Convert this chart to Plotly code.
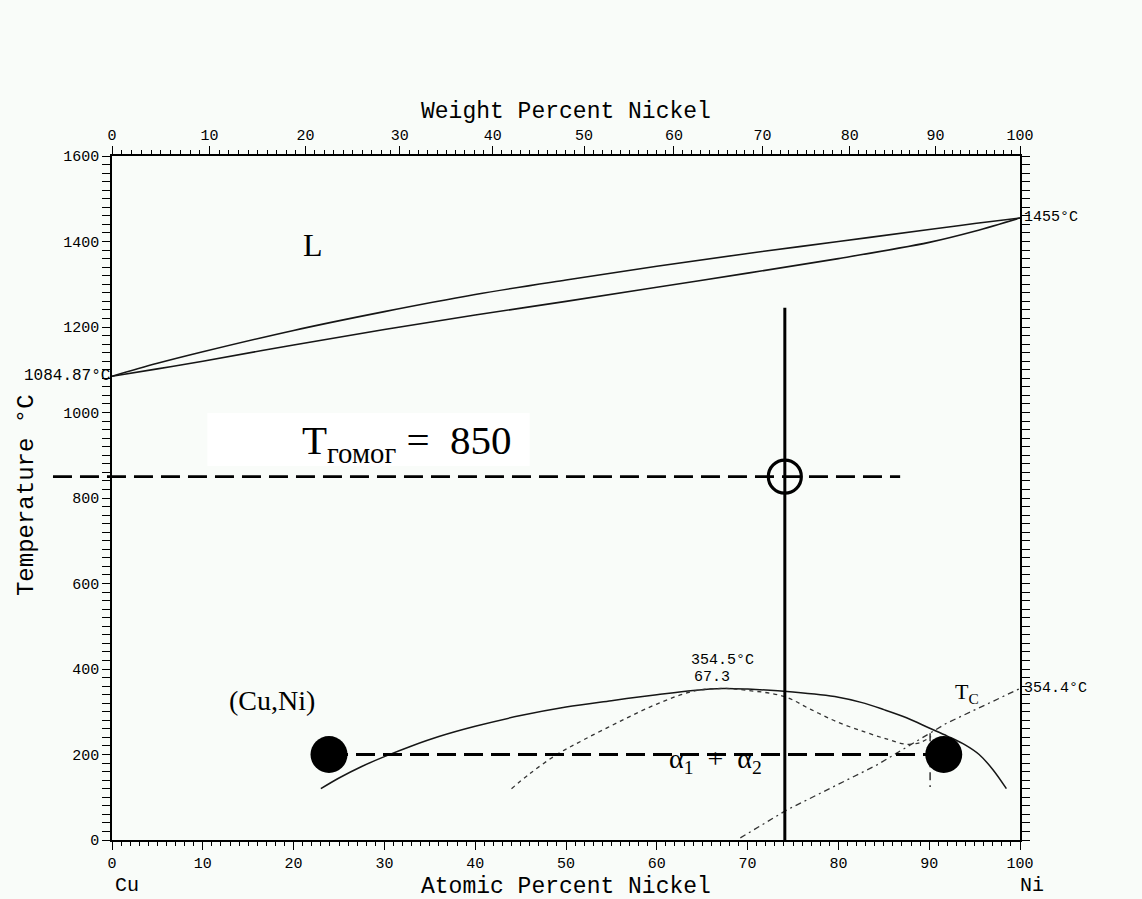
import plotly.graph_objects as go

# ---- Cu-Ni phase diagram data (composition in at.% Ni, temperature in °C) ----
liquidus_x = [0, 5, 10, 20, 30, 40, 50, 60, 70, 80, 90, 95, 100]
liquidus_t = [1084.87, 1115, 1142, 1192, 1236, 1276, 1310, 1342, 1372, 1400, 1428, 1442, 1455]

solidus_x = [0, 5, 10, 20, 30, 40, 50, 60, 70, 80, 90, 95, 100]
solidus_t = [1084.87, 1102, 1120, 1158, 1194, 1228, 1260, 1293, 1326, 1360, 1398, 1424, 1455]

# miscibility gap boundary
gap_x = [23, 25, 27.5, 30, 33, 36, 40, 45, 50, 55, 60, 64, 67.3, 70, 75, 80, 82.5, 85, 87.5, 90, 92, 94, 95.5, 97, 98.5]
gap_t = [120, 145, 172, 195, 220, 242, 266, 291, 311, 326, 340, 350, 354.5, 353, 346, 334, 322, 305, 286, 262, 243, 222, 200, 165, 120]

# spinodal (short dashes)
spin_x = [44, 46, 49, 52, 56, 60, 64, 67.3, 70, 74, 77, 80, 83, 85.5, 87.5, 89, 90.2]
spin_t = [120, 155, 200, 235, 278, 318, 348, 354.5, 350, 336, 305, 275, 252, 235, 224, 228, 242]

# magnetic transition Tc (dash-dot)
tc_x = [69.2, 74.3, 84.2, 91.9, 100]
tc_t = [5, 70, 175, 273, 354.4]

# short vertical dashed segment near 90 at.%
vseg_x = [90.1, 90.1]
vseg_t = [250, 124]

# alloy, homogenisation and ageing temperatures
alloy_at = 74.1
alloy_top_t = 1245
t_homog = 850
homog_span = (-6.5, 86.8)          # x extent of the 850 °C line, at.% Ni
homog_box_x = (10.5, 46.0)         # white label panel, at.% Ni
homog_box_t = (875, 999)           # white label panel, °C
t_age = 200
tie_ends = [23.9, 91.6]

# axis ticks
bottom_ticks = list(range(0, 101, 10))
left_ticks = list(range(0, 1601, 200))
weight_ticks = list(range(0, 101, 10))
weight_minor = list(range(0, 101, 1))

M_NI, M_CU = 58.6934, 63.546


def wt_to_at(w):
    n_ni = w / M_NI
    n_cu = (100 - w) / M_CU
    return 100 * n_ni / (n_ni + n_cu)


INK = "#161616"
BG = "#f9fcf9"
MONO = "Liberation Mono"
SERIF = "Liberation Serif"

fig = go.Figure()

# white panel behind the homogenisation label
fig.add_shape(type="rect", xref="x", yref="y", layer="below",
              x0=homog_box_x[0], x1=homog_box_x[1], y0=homog_box_t[0], y1=homog_box_t[1],
              fillcolor="white", line=dict(width=0))

fig.add_trace(go.Scatter(x=liquidus_x, y=liquidus_t, mode="lines", line=dict(color=INK, width=1.6, shape="spline")))
fig.add_trace(go.Scatter(x=solidus_x, y=solidus_t, mode="lines", line=dict(color=INK, width=1.6, shape="spline")))
fig.add_trace(go.Scatter(x=gap_x, y=gap_t, mode="lines", line=dict(color=INK, width=1.5, shape="spline")))
fig.add_trace(go.Scatter(x=spin_x, y=spin_t, mode="lines",
                         line=dict(color="#333", width=1.3, dash="4px,4px", shape="spline")))
fig.add_trace(go.Scatter(x=tc_x, y=tc_t, mode="lines",
                         line=dict(color="#333", width=1.3, dash="6px,4px,2px,4px")))
fig.add_trace(go.Scatter(x=vseg_x, y=vseg_t, mode="lines",
                         line=dict(color="#333", width=1.5, dash="8px,5px")))

# alloy composition line
fig.add_trace(go.Scatter(x=[alloy_at, alloy_at], y=[0, alloy_top_t], mode="lines",
                         line=dict(color="black", width=3)))

# ageing tie line
fig.add_trace(go.Scatter(x=tie_ends, y=[t_age, t_age], mode="lines",
                         line=dict(color="black", width=2.8, dash="19px,8px")))
fig.add_trace(go.Scatter(x=tie_ends, y=[t_age, t_age], mode="markers",
                         marker=dict(size=37, color="black", line=dict(width=0))))

# homogenisation line (extends left past the axis)
fig.add_shape(type="line", xref="paper", yref="y",
              x0=homog_span[0] / 100, x1=homog_span[1] / 100, y0=t_homog, y1=t_homog,
              line=dict(color="black", width=2.8, dash="19px,8px"))
fig.add_trace(go.Scatter(x=[alloy_at], y=[t_homog], mode="markers",
                         marker=dict(size=33, symbol="circle-open", color="black", line=dict(width=3.2))))

# labels inside the plot
ann = [
    dict(x=22.1, y=1392, text="L", font=dict(family=SERIF, size=32, color="black")),
    dict(x=32.5, y=929, text="T<sub>гомог</sub> =\u00a0 850", font=dict(family=SERIF, size=41, color="black")),
    dict(x=17.6, y=327, text="(Cu,Ni)", font=dict(family=SERIF, size=28, color="black")),
    dict(x=67.2, y=421, text="354.5°C", font=dict(family=MONO, size=15, color="black")),
    dict(x=66.1, y=381, text="67.3", font=dict(family=MONO, size=15, color="black")),
    dict(x=66.5, y=186, text="α<sub>1</sub>\u00a0 +\u00a0 α<sub>2</sub>", font=dict(family=SERIF, size=28, color="black")),
    dict(x=94.2, y=345, text="T<sub>C</sub>", font=dict(family=SERIF, size=22, color="black")),
]
for a in ann:
    a.update(xref="x", yref="y", showarrow=False)
    fig.add_annotation(**a)

# labels outside the plot area
outside = [
    dict(x=0.0, y=1084.87, yref="y", text="1084.87°C", xanchor="right", size=16),
    dict(x=1.002, y=1455, yref="y", text="1455°C", xanchor="left", size=15),
    dict(x=1.002, y=354.4, yref="y", text="354.4°C", xanchor="left", size=15),
    dict(x=0.5, y=1.064, yref="paper", text="Weight Percent Nickel", xanchor="center", size=23),
    dict(x=0.5, y=-0.069, yref="paper", text="Atomic Percent Nickel", xanchor="center", size=23),
    dict(x=0.016, y=-0.066, yref="paper", text="Cu", xanchor="center", size=20),
    dict(x=1.013, y=-0.066, yref="paper", text="Ni", xanchor="center", size=20),
]
for o in outside:
    fig.add_annotation(x=o["x"], y=o["y"], xref="paper", yref=o["yref"], text=o["text"],
                       xanchor=o["xanchor"], yanchor="middle", showarrow=False,
                       font=dict(family=MONO, size=o["size"], color="black"))
fig.add_annotation(x=-0.112, y=0.504, xref="paper", yref="paper", text="Temperature °C",
                   textangle=-90, showarrow=False, font=dict(family=MONO, size=24, color="black"))

axis_common = dict(showgrid=False, zeroline=False, linecolor="black", linewidth=1.5,
                   tickcolor="black", tickwidth=1.4, ticks="outside", ticklen=8,
                   tickfont=dict(family=MONO, size=15, color="black"))

fig.update_layout(
    width=1142, height=899,
    margin=dict(l=112, r=122, t=156, b=59),
    paper_bgcolor=BG, plot_bgcolor=BG,
    showlegend=False,
    xaxis=dict(range=[0, 100], tickvals=bottom_ticks, mirror=True,
               minor=dict(dtick=1, ticks="outside", ticklen=4, tickcolor="black"),
               **axis_common),
    xaxis2=dict(range=[0, 100], overlaying="x", side="top", anchor="y",
                tickvals=[wt_to_at(w) for w in weight_ticks], ticktext=[str(w) for w in weight_ticks],
                minor=dict(tickvals=[wt_to_at(w) for w in weight_minor], ticks="outside", ticklen=4,
                           tickcolor="black"),
                **axis_common),
    yaxis=dict(range=[0, 1600], tickvals=left_ticks, mirror="allticks",
               minor=dict(dtick=20, ticks="outside", ticklen=4, tickcolor="black"),
               **axis_common),
)
# an invisible point keeps the top axis drawn
fig.add_trace(go.Scatter(x=[0], y=[0], xaxis="x2", mode="markers", marker=dict(opacity=0), hoverinfo="skip"))

fig.write_html("out.html")
